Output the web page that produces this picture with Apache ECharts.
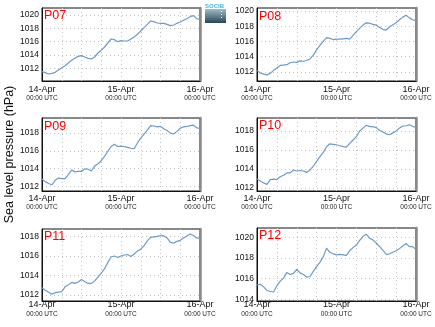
<!DOCTYPE html>
<html><head><meta charset="utf-8">
<script src="https://cdn.jsdelivr.net/npm/echarts@6/dist/echarts.min.js"></script>
<style>html,body{margin:0;padding:0;background:#fff}#c{width:435px;height:327px}</style>
</head><body><div id="c"></div>
<script>
// ---- data ----
const hours = [0,1,2,3,4,5,6,7,8,9,10,11,12,13,14,15,16,17,18,19,20,21,22,23,24,25,26,27,28,29,30,31,32,33,34,35,36,37,38,39,40,41,42,43,44,45,46,47,48];
const xTickHours = [0, 24, 48];
const xTickDates = ['14-Apr', '15-Apr', '16-Apr'];
const xTickTime = '00:00 UTC';
const yAxisTitle = 'Sea level pressure (hPa)';
const stations = ['P07', 'P08', 'P09', 'P10', 'P11', 'P12'];

const p07 = [1011.5,1011.35,1011.15,1011.25,1011.4,1011.75,1012.1,1012.4,1012.8,1013.2,1013.5,1013.8,1013.9,1013.7,1013.5,1013.4,1013.7,1014.3,1014.7,1015.2,1015.8,1016.4,1016.3,1016.0,1016.15,1016.1,1016.1,1016.4,1016.7,1017.1,1017.6,1018.1,1018.6,1019.1,1019.0,1018.8,1018.75,1018.75,1018.6,1018.4,1018.5,1018.75,1018.95,1019.2,1019.45,1019.75,1019.9,1019.45,1019.35];
const p08 = [1012.2,1011.85,1011.7,1011.6,1011.8,1012.2,1012.5,1012.85,1012.9,1012.95,1013.2,1013.3,1013.25,1013.45,1013.4,1013.5,1013.7,1014.2,1014.9,1015.5,1016.0,1016.5,1016.4,1016.25,1016.3,1016.3,1016.35,1016.4,1016.3,1016.8,1017.3,1017.75,1018.15,1018.45,1018.4,1018.25,1018.15,1017.85,1017.6,1017.5,1017.9,1018.2,1018.45,1018.85,1019.2,1019.45,1019.1,1018.85,1018.7];
const p09 = [1012.85,1012.55,1012.35,1012.2,1012.7,1012.95,1012.9,1012.9,1013.35,1013.85,1013.65,1013.7,1013.7,1014.0,1013.95,1013.75,1014.3,1014.55,1014.9,1015.4,1015.95,1016.5,1016.75,1016.5,1016.55,1016.5,1016.4,1016.3,1016.25,1016.9,1017.45,1017.9,1018.35,1018.85,1018.8,1018.7,1018.75,1018.5,1018.3,1018.0,1017.9,1018.2,1018.55,1018.7,1018.75,1018.85,1018.9,1018.6,1018.5];
const p10 = [1012.95,1012.75,1012.55,1012.4,1012.9,1012.95,1012.9,1013.2,1013.35,1013.6,1013.6,1013.9,1013.8,1013.85,1013.8,1013.65,1013.9,1014.3,1014.8,1015.3,1015.75,1016.35,1016.65,1016.6,1016.55,1016.45,1016.35,1016.3,1016.7,1017.05,1017.4,1018.0,1018.3,1018.6,1018.45,1018.45,1018.35,1018.05,1017.9,1017.7,1017.6,1017.8,1018.0,1018.3,1018.5,1018.55,1018.65,1018.5,1018.35];
const p11 = [1012.75,1012.5,1012.3,1012.1,1012.25,1012.3,1012.35,1012.85,1013.05,1013.3,1013.2,1013.35,1013.6,1013.4,1013.2,1013.2,1013.45,1013.85,1014.25,1014.7,1015.35,1015.9,1016.0,1015.85,1016.0,1016.1,1016.15,1015.95,1016.2,1016.5,1016.7,1017.05,1017.55,1017.9,1017.95,1018.0,1018.1,1018.05,1017.85,1017.4,1017.3,1017.5,1017.6,1017.85,1018.05,1018.25,1018.1,1017.85,1017.8];
const p12 = [1015.4,1015.45,1015.2,1014.85,1014.75,1014.7,1015.3,1015.75,1016.05,1016.6,1016.4,1016.5,1016.9,1016.55,1016.4,1016.15,1016.2,1016.7,1017.15,1017.6,1018.1,1018.95,1018.55,1018.4,1018.3,1018.35,1018.3,1018.25,1018.7,1019.0,1019.25,1019.7,1020.1,1020.3,1019.9,1019.75,1019.45,1019.1,1018.75,1018.35,1018.4,1018.55,1018.7,1018.9,1019.15,1019.4,1019.1,1019.1,1018.8];
const seriesValues = [p07, p08, p09, p10, p11, p12];

const yTicksA = [1012, 1014, 1016, 1018, 1020];
const yTicksB = [1012, 1014, 1016, 1018];
const yTicksC = [1014, 1016, 1018, 1020];
const yTickSets = [yTicksA, yTicksA, yTicksB, yTicksB, yTicksB, yTicksC];
const yMins = [1010.1, 1010.8, 1011.5, 1011.7, 1011.4, 1013.83];
const yMaxs = [1021.05, 1020.4, 1019.7, 1019.36, 1018.76, 1020.9];

// ---- layout ----
const grids = [
  {left: 42, top: 8, width: 158, height: 73},
  {left: 257, top: 8, width: 159, height: 73},
  {left: 42, top: 118, width: 158, height: 73},
  {left: 257, top: 118, width: 159, height: 73},
  {left: 42, top: 229, width: 158, height: 72},
  {left: 257, top: 228, width: 159, height: 73}
];
const titlePos = [[44, 9], [259, 10], [44, 120], [259, 119], [44, 230], [259, 229]];
const xLabelMargins = [3.8, 3.8, 2.8, 2.8, -0.5, -0.5];
const FONT = 'Liberation Sans, Arial, sans-serif';
const LINE_COLOR = '#6d9bc8';

const option = {
  animation: false,
  backgroundColor: '#fff',
  textStyle: {fontFamily: FONT},
  title: stations.map((s, i) => ({
    text: s, left: titlePos[i][0], top: titlePos[i][1], padding: 0,
    textStyle: {color: '#ff0000', fontSize: 12.5, fontWeight: 'normal', fontFamily: FONT}
  })),
  grid: grids.map(g => Object.assign({show: true, borderColor: '#111', borderWidth: 1, containLabel: false}, g)),
  xAxis: grids.map((g, i) => ({
    type: 'value', gridIndex: i, min: 0, max: 48, interval: 6,
    axisLine: {show: true, lineStyle: {color: '#111', width: 1}},
    axisTick: {show: false},
    splitLine: {show: true, lineStyle: {color: '#c4c4c4', type: [1, 3], width: 1}},
    axisLabel: {
      customValues: xTickHours,
      margin: xLabelMargins[i],
      formatter: v => {
        const k = xTickHours.indexOf(v);
        return k < 0 ? '' : '{d|' + xTickDates[k] + '}\n{u|' + xTickTime + '}';
      },
      rich: {
        d: {fontSize: 9, lineHeight: 9, color: '#111', fontFamily: FONT},
        u: {fontSize: 6.5, lineHeight: 9.8, color: '#222', fontFamily: FONT}
      }
    }
  })),
  yAxis: grids.map((g, i) => ({
    type: 'value', gridIndex: i, position: 'left', min: yMins[i], max: yMaxs[i],
    name: i === 2 ? yAxisTitle : '',
    nameLocation: 'middle', nameGap: 25,
    nameTextStyle: {fontSize: 12.5, color: '#111', fontFamily: FONT},
    axisLine: {show: true, lineStyle: {color: '#111', width: 1}},
    axisTick: {show: false, customValues: yTickSets[i]},
    splitLine: {show: true, lineStyle: {color: '#c4c4c4', type: [1, 3], width: 1}},
    axisLabel: {customValues: yTickSets[i], margin: 3, fontSize: 8.5, color: '#111', fontFamily: FONT,
      formatter: v => String(Math.round(v))}
  })).concat(grids.map((g, i) => ({
    type: 'value', gridIndex: i, position: 'right', min: yMins[i], max: yMaxs[i],
    axisLine: {show: true, lineStyle: {color: '#8a8a8a', width: 2.5}},
    axisTick: {show: false}, axisLabel: {show: false}, splitLine: {show: false}
  }))),
  series: seriesValues.map((vals, i) => ({
    type: 'line', xAxisIndex: i, yAxisIndex: i, symbol: 'none',
    lineStyle: {color: LINE_COLOR, width: 1.2},
    data: hours.map((h, k) => [h, vals[k]])
  })),
  graphic: [
    {type: 'text', left: 205, top: 3, style: {text: 'SOCIB', fill: '#3bbad6', font: 'bold 6px ' + FONT}},
    {type: 'rect', shape: {x: 205, y: 9, width: 21, height: 14},
     style: {fill: new echarts.graphic.LinearGradient(0, 0, 0, 1, [
       {offset: 0, color: '#9fbccb'}, {offset: 1, color: '#2c4455'}])}},
    {type: 'rect', shape: {x: 221, y: 11, width: 1, height: 1}, style: {fill: '#fff'}},
    {type: 'rect', shape: {x: 221, y: 14, width: 1, height: 1}, style: {fill: '#fff'}},
    {type: 'rect', shape: {x: 221, y: 17, width: 1, height: 1}, style: {fill: '#fff'}}
  ]
};
const chart = echarts.init(document.getElementById('c'), null, {renderer: 'canvas'});
chart.setOption(option);
</script>
</body></html>
